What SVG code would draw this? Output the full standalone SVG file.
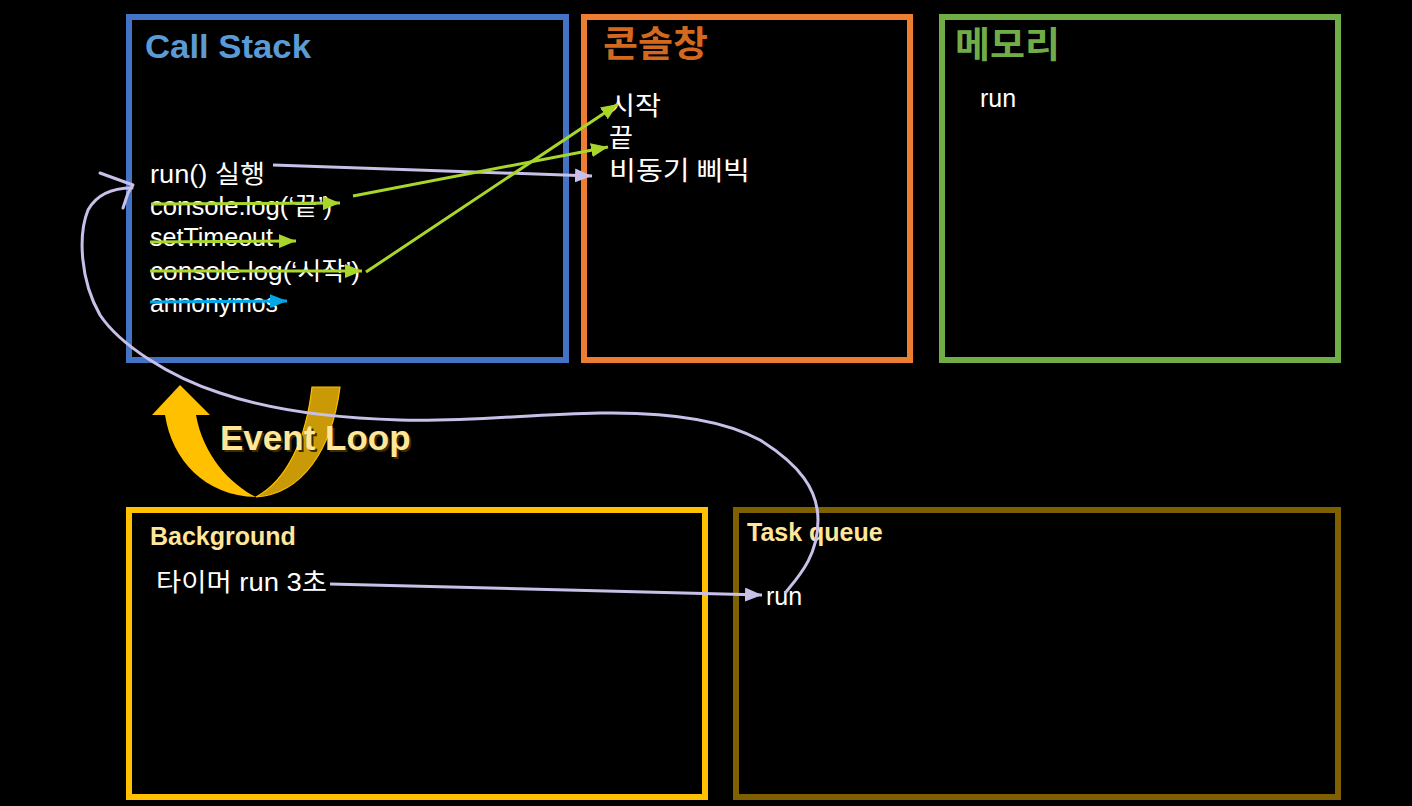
<svg xmlns="http://www.w3.org/2000/svg" width="1412" height="806" viewBox="0 0 1412 806">
<defs>
<style>
.box{fill:none;stroke-width:6}
.t{font-family:"Liberation Sans","Noto Sans CJK KR",sans-serif;fill:#fff}
.k{font-family:"Noto Sans CJK KR","Liberation Sans",sans-serif}
.h{font-weight:bold}
.g{stroke:#A9D62B;stroke-width:3;fill:none}
.lv{stroke:#C8C0E8;stroke-width:3;fill:none}
.bl{stroke:#00A8E8;stroke-width:3;fill:none}
</style>
<marker id="ag" markerUnits="userSpaceOnUse" markerWidth="18" markerHeight="14" refX="17" refY="7" orient="auto"><path d="M0,0 L17,7 L0,14 z" fill="#A9D62B"/></marker>
<marker id="al" markerUnits="userSpaceOnUse" markerWidth="18" markerHeight="14" refX="17" refY="7" orient="auto"><path d="M0,0 L17,7 L0,14 z" fill="#C8C0E8"/></marker>
<marker id="ab" markerUnits="userSpaceOnUse" markerWidth="18" markerHeight="14" refX="17" refY="7" orient="auto"><path d="M0,0 L17,7 L0,14 z" fill="#00A8E8"/></marker>
</defs>
<rect width="1412" height="806" fill="#000"/>

<g id="callstack">
<rect class="box" x="129" y="17" width="437" height="343" stroke="#4472C4"/>
<text class="t h" x="145" y="58" font-size="34" textLength="166" lengthAdjust="spacingAndGlyphs" style="fill:#5B9BD5">Call Stack</text>
<text class="t" x="150" y="183" font-size="25" textLength="115" lengthAdjust="spacingAndGlyphs">run() 실행</text>
<text class="t" x="150" y="215" font-size="25" textLength="182" lengthAdjust="spacingAndGlyphs">console.log(‘끝’)</text>
<text class="t" x="150" y="246" font-size="25" textLength="123" lengthAdjust="spacingAndGlyphs">setTimeout</text>
<text class="t" x="150" y="280" font-size="25" textLength="210" lengthAdjust="spacingAndGlyphs">console.log(‘시작’)</text>
<text class="t" x="150" y="312" font-size="25" textLength="128" lengthAdjust="spacingAndGlyphs">annonymos</text>
</g>

<g id="console">
<rect class="box" x="584" y="17" width="326" height="343" stroke="#ED7D31"/>
<text class="t k h" x="603" y="57" font-size="36" textLength="105" lengthAdjust="spacingAndGlyphs" style="fill:#D2691E">콘솔창</text>
<text class="t k" x="609" y="115" font-size="26" textLength="52" lengthAdjust="spacingAndGlyphs">시작</text>
<text class="t k" x="609" y="147" font-size="26">끝</text>
<text class="t k" x="609" y="180" font-size="26" textLength="141" lengthAdjust="spacingAndGlyphs">비동기 삐빅</text>
</g>

<g id="memory">
<rect class="box" x="942" y="17" width="396" height="343" stroke="#70AD47"/>
<text class="t k h" x="955" y="58" font-size="36" textLength="105" lengthAdjust="spacingAndGlyphs" style="fill:#70AD47">메모리</text>
<text class="t" x="980" y="107" font-size="25">run</text>
</g>

<g id="background">
<rect class="box" x="129" y="510" width="576" height="287" stroke="#FFC000"/>
<text class="t h" x="150" y="545" font-size="25" style="fill:#FFE699">Background</text>
<text class="t" x="156" y="591" font-size="25" textLength="171" lengthAdjust="spacingAndGlyphs">타이머 run 3초</text>
</g>

<g id="taskqueue">
<rect class="box" x="736" y="510" width="602" height="287" stroke="#7F6000"/>
<text class="t h" x="747" y="541" font-size="25" style="fill:#FFE699">Task queue</text>
<text class="t" x="766" y="605" font-size="25">run</text>
</g>

<g id="eventloop">
<path d="M165,415 C172,460 205,496 256,497 C230,484 203,455 196,415 Z" fill="#FFC000"/>
<path d="M152,415 L180,385 L210,415 Z" fill="#FFC000"/>
<path d="M256,497 C302,494 332,450 340,387 L312,387 C306,440 287,480 256,497 Z" fill="#C99A06" stroke="#FFC000" stroke-width="1.2"/>
<text class="t h" x="222" y="452" font-size="35" style="fill:#3a2d00">Event Loop</text>
<text class="t h" x="220" y="450" font-size="35" style="fill:#FFE699">Event Loop</text>
</g>

<g id="connectors">
<path class="lv" d="M273,165 L592,176" marker-end="url(#al)"/>
<path class="g" d="M151,204 L340,203" marker-end="url(#ag)"/>
<path class="g" d="M353,196 L608,147" marker-end="url(#ag)"/>
<path class="g" d="M150,242 L296,241" marker-end="url(#ag)"/>
<path class="g" d="M150,271 L362,271" marker-end="url(#ag)"/>
<path class="g" d="M366,272 L618,104" marker-end="url(#ag)"/>
<path class="bl" d="M150,302 L287,301" marker-end="url(#ab)"/>
<path class="lv" d="M330,584 L762,595" marker-end="url(#al)"/>
<path class="lv" stroke-width="2" stroke-linecap="round" stroke-linejoin="round" d="M786,592 C800,575 818,555 818,520 C818,490 800,465 760,440 C720,418 660,412 600,413 C530,414 470,422 400,420 C330,418 270,410 220,393 C170,377 120,345 100,315 C80,280 78,235 88,210 C98,192 115,188 132,188"/>
<path class="lv" stroke-width="2" stroke-linecap="round" stroke-linejoin="round" d="M100,173 L133,185 L128,193 L123,208"/>
</g>
</svg>
